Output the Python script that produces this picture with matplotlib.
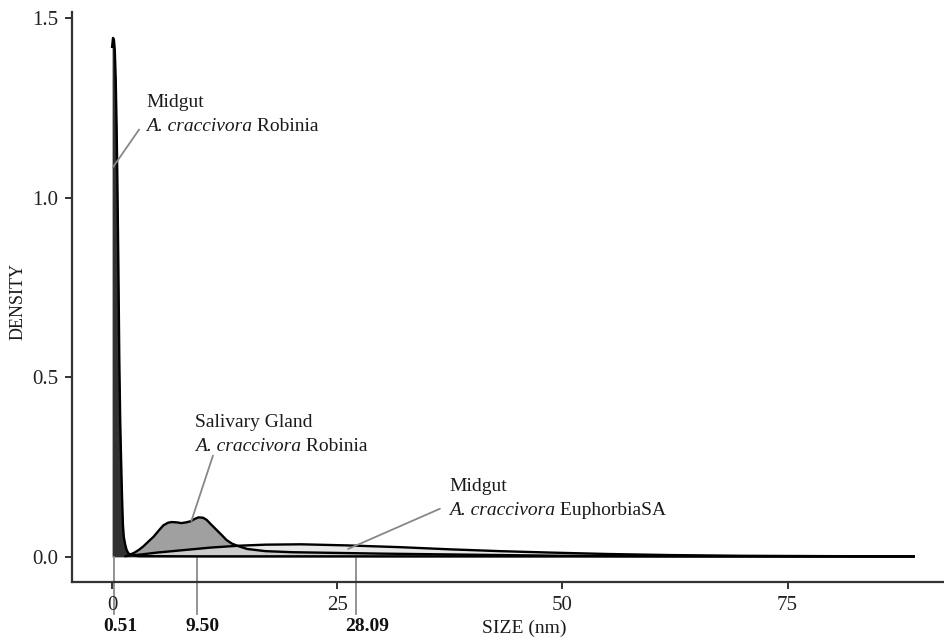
import matplotlib
matplotlib.use("Agg")
import matplotlib.pyplot as plt
import numpy as np

plt.rcParams['font.family'] = ['Liberation Serif', 'DejaVu Serif']

# density curves (SIZE in nm, DENSITY)
robinia_mg_x = [0, 0.1, 0.2, 0.3, 0.4, 0.5, 0.6, 0.7, 0.8, 0.9, 1.0, 1.1, 1.2, 1.3, 1.45,
                1.6, 1.8, 2.2, 3, 10, 30, 60, 89]
robinia_mg_y = [1.42, 1.445, 1.44, 1.41, 1.33, 1.20, 1.02, 0.80, 0.55, 0.38, 0.27, 0.17, 0.09,
                0.055, 0.035, 0.02, 0.01, 0.004, 0.002, 0.0015, 0.0015, 0.0015, 0.0015]

robinia_sg_x = [1.8, 2.5, 3.0, 3.5, 4.0, 4.6, 5.2, 5.7, 6.2, 6.6, 7.2, 7.7, 8.2, 8.7, 9.2,
                9.6, 10.1, 10.5, 11.0, 11.6, 12.2, 12.7, 13.3, 14.0, 15, 17, 20, 25, 30,
                40, 50, 60, 75, 89]
robinia_sg_y = [0.004, 0.012, 0.02, 0.03, 0.042, 0.056, 0.074, 0.088, 0.095, 0.097, 0.096,
                0.094, 0.096, 0.099, 0.106, 0.11, 0.109, 0.103, 0.09, 0.075, 0.06, 0.047,
                0.037, 0.03, 0.022, 0.016, 0.013, 0.011, 0.009, 0.006, 0.003, 0.002, 0.001,
                0.001]

euphorbia_mg_x = [1.5, 3, 5, 8, 11, 14, 17, 21, 26, 32, 37.5, 43, 48.6, 55, 62, 70, 80, 89]
euphorbia_mg_y = [0.002, 0.006, 0.012, 0.019, 0.026, 0.031, 0.034, 0.035, 0.032, 0.027, 0.021,
                  0.016, 0.012, 0.008, 0.005, 0.003, 0.002, 0.001]

# marker lines and their labels
mark_x = [0.25, 9.4, 27.1]
mark_labels = ['0.51', '9.50', '28.09']

x_ticks = [0, 25, 50, 75]
y_ticks = [0.0, 0.5, 1.0, 1.5]

fig = plt.figure(figsize=(9.44, 6.4), dpi=100)
ax = fig.add_axes([0.0763, 0.0906, 0.934, 0.8906])

curves = [
    (robinia_mg_x, robinia_mg_y, '#262626', 0.95),
    (robinia_sg_x, robinia_sg_y, '#8f8f8f', 0.85),
    (euphorbia_mg_x, euphorbia_mg_y, '#e0e0e0', 0.7),
]
for cx, cy, col, a in curves:
    ax.fill_between(cx, 0, cy, color=col, alpha=a, lw=0)
    ax.plot(cx, cy, color='black', lw=1.7, solid_joinstyle='round')

ax.set_xlim(-4.45, 93.45)
ax.set_ylim(-0.07, 1.517)
ax.set_xticks(x_ticks)
ax.set_yticks(y_ticks)
ax.set_yticklabels([f'{v:.1f}' for v in y_ticks])
for s in ['top', 'right']:
    ax.spines[s].set_visible(False)
for s in ['left', 'bottom']:
    ax.spines[s].set_linewidth(1.6)
    ax.spines[s].set_color('#333333')
ax.tick_params(direction='out', length=5, width=1.4, color='#333333',
               labelsize=15, labelcolor='#222222', pad=5)

ax.set_xlabel('SIZE (nm)', fontsize=14, color='#1a1a1a', va='center')
ax.xaxis.set_label_coords(0.5125, -0.081)
ax.set_ylabel('DENSITY', fontsize=13, color='#1a1a1a', va='center')
ax.yaxis.set_label_coords(-0.061, 0.493)

# vertical marker lines with bold labels below the axis
for mx, lab in zip(mark_x, mark_labels):
    ax.plot([mx, mx], [0, -0.16], color='#8a8a8a', lw=1.3, clip_on=False, zorder=1)
    ax.annotate(lab, xy=(mx, -0.195), xytext=(-8, 0), textcoords='offset points',
                ha='left', va='center', fontsize=14, fontweight='bold',
                color='#111111', annotation_clip=False)


def label(x, y, top, ital, rest, start, end):
    ax.text(x, y + 0.066, top, fontsize=14, color='#1a1a1a', va='baseline', ha='left')
    t = ax.text(x, y, ital, fontsize=14, style='italic', color='#1a1a1a',
                va='baseline', ha='left')
    ax.annotate(rest, xy=(1, 0), xycoords=t, va='bottom', ha='left',
                fontsize=14, color='#1a1a1a')
    ax.annotate('', xy=end, xytext=start,
                arrowprops=dict(arrowstyle='-', color='#888888', lw=1.3,
                                shrinkA=0, shrinkB=0))


label(3.8, 1.186, 'Midgut', 'A. craccivora', ' Robinia', (3.0, 1.19), (0.1, 1.085))
label(9.2, 0.295, 'Salivary Gland', 'A. craccivora', ' Robinia', (11.2, 0.282), (8.8, 0.10))
label(37.4, 0.117, 'Midgut', 'A. craccivora', ' EuphorbiaSA', (36.4, 0.134), (26.2, 0.022))

fig.savefig('out.png', dpi=100)
